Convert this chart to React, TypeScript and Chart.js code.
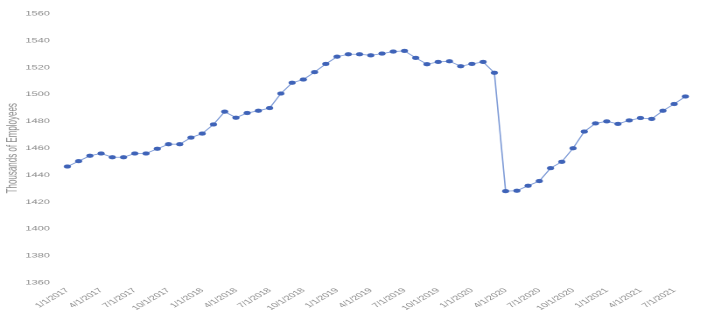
import { useEffect, useRef } from "react";
import { Chart, registerables } from "chart.js";

Chart.register(...registerables);

// Monthly payroll employment, January 2017 through August 2021 (thousands)
const months: string[] = [
  "1/1/2017", "2/1/2017", "3/1/2017", "4/1/2017", "5/1/2017", "6/1/2017",
  "7/1/2017", "8/1/2017", "9/1/2017", "10/1/2017", "11/1/2017", "12/1/2017",
  "1/1/2018", "2/1/2018", "3/1/2018", "4/1/2018", "5/1/2018", "6/1/2018",
  "7/1/2018", "8/1/2018", "9/1/2018", "10/1/2018", "11/1/2018", "12/1/2018",
  "1/1/2019", "2/1/2019", "3/1/2019", "4/1/2019", "5/1/2019", "6/1/2019",
  "7/1/2019", "8/1/2019", "9/1/2019", "10/1/2019", "11/1/2019", "12/1/2019",
  "1/1/2020", "2/1/2020", "3/1/2020", "4/1/2020", "5/1/2020", "6/1/2020",
  "7/1/2020", "8/1/2020", "9/1/2020", "10/1/2020", "11/1/2020", "12/1/2020",
  "1/1/2021", "2/1/2021", "3/1/2021", "4/1/2021", "5/1/2021", "6/1/2021",
  "7/1/2021", "8/1/2021",
];

const employees: number[] = [
  1446.4, 1450.4, 1454.4, 1456.1, 1453.3, 1453.3,
  1456.1, 1456.1, 1459.6, 1463.0, 1463.0, 1467.9,
  1470.9, 1477.7, 1487.2, 1482.7, 1486.2, 1487.9,
  1489.9, 1500.7, 1508.7, 1511.1, 1516.6, 1522.7,
  1528.1, 1529.9, 1529.9, 1529.1, 1530.4, 1531.9,
  1532.4, 1527.2, 1522.5, 1524.2, 1524.7, 1521.0,
  1522.7, 1524.2, 1516.1, 1428.1, 1428.4, 1432.1,
  1435.6, 1445.2, 1449.9, 1460.0, 1472.4, 1478.5,
  1480.0, 1478.1, 1480.7, 1482.5, 1481.8, 1487.9,
  1492.9, 1498.5,
];

const yMin = 1360;
const yMax = 1560;
const yStep = 20;
const labelEvery = 3;
const yTitle = "Thousands of Employees";

// The chart is drawn narrow and widened horizontally to its final size.
const STRETCH = 1.75;
const VIEW_W = 702;
const VIEW_H = 322;
const CANVAS_W = 401;

const TEXT_COLOR = "#8a8a8a";
const LINE_COLOR = "#7d9ad6";
const POINT_COLOR = "#3f63b8";
const FONT_FAMILY = "'Liberation Sans', Arial, sans-serif";

export default function App() {
  const canvasRef = useRef<HTMLCanvasElement | null>(null);

  useEffect(() => {
    const canvas = canvasRef.current;
    if (!canvas) return;
    const chart = new Chart(canvas, {
      type: "line",
      data: {
        labels: months,
        datasets: [
          {
            data: employees,
            borderColor: LINE_COLOR,
            backgroundColor: POINT_COLOR,
            borderWidth: 0.8,
            pointRadius: 1.9,
            pointBorderWidth: 0.4,
            pointBackgroundColor: POINT_COLOR,
            pointBorderColor: POINT_COLOR,
            tension: 0,
            clip: false as any,
          },
        ],
      },
      options: {
        responsive: false,
        animation: false,
        devicePixelRatio: 2,
        layout: { padding: { top: 12.7, right: 0.6, bottom: 0, left: 0 } },
        plugins: {
          legend: { display: false },
          tooltip: { enabled: false },
        },
        scales: {
          x: {
            type: "category",
            offset: false,
            grid: { display: false, drawTicks: false },
            border: { display: false },
            ticks: {
              autoSkip: false,
              minRotation: 45,
              maxRotation: 45,
              padding: 4,
              color: TEXT_COLOR,
              font: { family: FONT_FAMILY, size: 6.3 },
              callback: (_v: any, i: number) => (i % labelEvery === 0 ? months[i] : ""),
            },
            afterFit: (scale: any) => {
              scale.height = 39.3;
            },
          },
          y: {
            min: yMin,
            max: yMax,
            grid: { display: false, drawTicks: false },
            border: { display: false },
            ticks: {
              stepSize: yStep,
              padding: 10,
              color: TEXT_COLOR,
              font: { family: FONT_FAMILY, size: 6.3 },
              callback: (v: any) => String(v),
            },
            title: {
              display: true,
              text: yTitle,
              color: TEXT_COLOR,
              font: { family: FONT_FAMILY, size: 8 },
              padding: { top: 2.5, bottom: 0 },
            },
            afterFit: (scale: any) => {
              scale.width = 38.5;
            },
          },
        },
      },
    });
    return () => chart.destroy();
  }, []);

  return (
    <div
      style={{
        position: "fixed",
        left: 0,
        top: 0,
        width: VIEW_W,
        height: VIEW_H,
        overflow: "hidden",
        background: "#ffffff",
      }}
    >
      <div
        style={{
          width: CANVAS_W,
          height: VIEW_H,
          transform: `scaleX(${STRETCH})`,
          transformOrigin: "0 0",
        }}
      >
        <canvas
          ref={canvasRef}
          width={CANVAS_W}
          height={VIEW_H}
          style={{ width: CANVAS_W, height: VIEW_H, display: "block" }}
        />
      </div>
    </div>
  );
}
